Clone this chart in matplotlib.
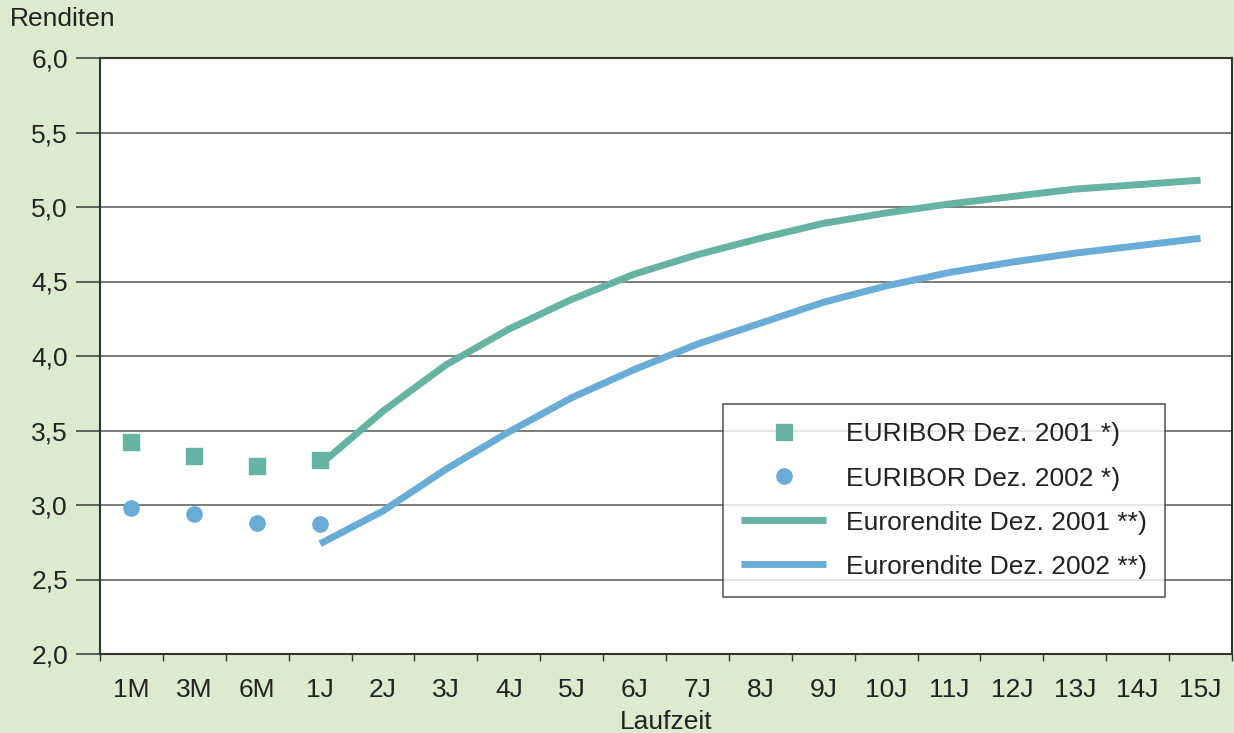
import numpy as np
import matplotlib.pyplot as plt
from matplotlib.ticker import FixedLocator, FuncFormatter

plt.rcParams['font.family'] = ['Liberation Sans', 'DejaVu Sans']

labels = ["1M", "3M", "6M", "1J", "2J", "3J", "4J", "5J", "6J", "7J",
          "8J", "9J", "10J", "11J", "12J", "13J", "14J", "15J"]

# EURIBOR (1M, 3M, 6M, 1J)
euribor_2001 = [3.42, 3.33, 3.26, 3.30]
euribor_2002 = [2.98, 2.94, 2.88, 2.87]

# Eurorendite (1J .. 15J)
euro_2001 = [3.27, 3.63, 3.94, 4.18, 4.38, 4.55, 4.68, 4.79, 4.89,
             4.96, 5.02, 5.07, 5.12, 5.15, 5.18]
euro_2002 = [2.74, 2.96, 3.24, 3.49, 3.72, 3.91, 4.08, 4.22, 4.36,
             4.47, 4.56, 4.63, 4.69, 4.74, 4.79]

green = '#66b3a3'
blue = '#69acd6'
bg = '#dcebcd'
fs = 19

fig = plt.figure(figsize=(12.34, 7.33), dpi=100, facecolor=bg)
ax = fig.add_axes([100 / 1234, 79 / 733, 1132 / 1234, 596 / 733])

x_eur = np.arange(len(euribor_2001))
x_line = np.arange(3, 3 + len(euro_2001))

ax.plot(x_eur, euribor_2001, ls='none', marker='s', ms=11.5, color=green,
        label='EURIBOR Dez. 2001 *)')
ax.plot(x_eur, euribor_2002, ls='none', marker='o', ms=11, color=blue,
        label='EURIBOR Dez. 2002 *)')
ax.plot(x_line, euro_2001, lw=5, color=green, solid_capstyle='butt',
        label='Eurorendite Dez. 2001 **)')
ax.plot(x_line, euro_2002, lw=5, color=blue, solid_capstyle='butt',
        label='Eurorendite Dez. 2002 **)')

ax.set_xlim(-0.5, len(labels) - 0.5)
ax.set_ylim(2.0, 6.0)

# category boundaries get tick marks, labels sit at centres
ax.xaxis.set_major_locator(FixedLocator(np.arange(-0.5, len(labels), 1.0)))
ax.xaxis.set_minor_locator(FixedLocator(np.arange(len(labels))))
ax.set_xticklabels([], minor=False)
ax.set_xticklabels(labels, minor=True)
ax.tick_params(axis='x', which='major', length=5, width=1, color='#333333')
ax.tick_params(axis='x', which='minor', length=0, labelsize=fs, pad=17,
               labelcolor='#222222')

ax.set_yticks(np.arange(2.0, 6.01, 0.5))
ax.yaxis.set_major_formatter(FuncFormatter(lambda v, p: f'{v:.1f}'.replace('.', ',')))
ax.tick_params(axis='y', length=17, width=1.2, color='#444444', labelsize=fs,
               pad=6, labelcolor='#222222')

ax.grid(axis='y', color='#666666', lw=1.2)
ax.set_axisbelow(True)
for s in ax.spines.values():
    s.set_color('#333333')
    s.set_linewidth(1.5)

ax.set_xlabel('Laufzeit', fontsize=fs, color='#222222', labelpad=6)
fig.text(10 / 1234, 1 - 19 / 733, 'Renditen', fontsize=fs, color='#222222',
         va='center', ha='left')

leg = ax.legend(loc='upper left', bbox_to_anchor=((723 - 100) / 1132, (654 - 404) / 596),
                fontsize=fs, frameon=True, fancybox=False, handlelength=3.2,
                handletextpad=0.75, borderpad=0.7, labelspacing=0.76,
                borderaxespad=0)
leg.get_frame().set_edgecolor('#333333')
leg.get_frame().set_linewidth(1.2)
for t in leg.get_texts():
    t.set_color('#222222')

fig.savefig('out.png', dpi=100, facecolor=bg)
